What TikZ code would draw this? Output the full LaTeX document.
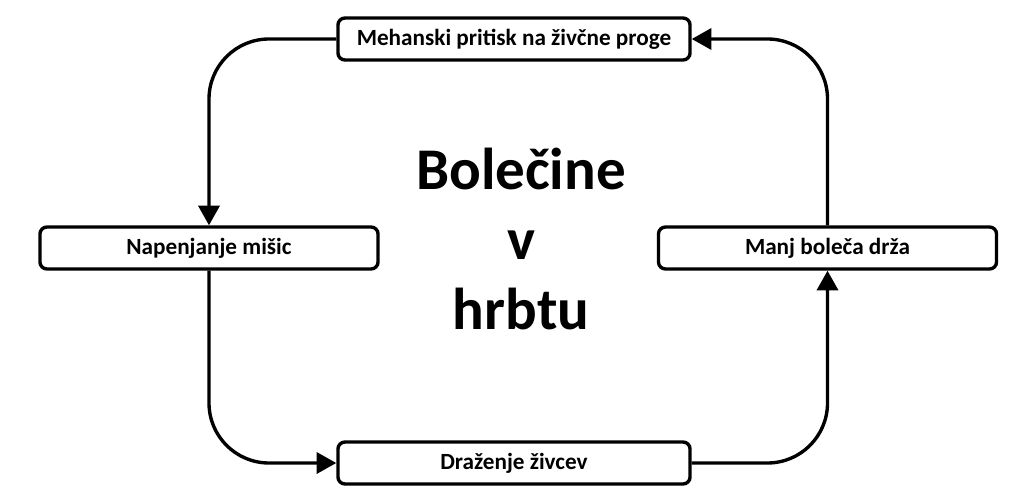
\documentclass[tikz,border=0pt]{standalone}
\usepackage{fontspec}
\setmainfont{Carlito}
\usetikzlibrary{arrows.meta}
\begin{document}
\begin{tikzpicture}[x=0.025cm,y=-0.025cm,
	okvir/.style={draw,line width=2.4pt,rounded corners=5pt,fill=white,minimum height=1.05cm,font=\fontsize{16.5}{20}\selectfont\bfseries},
	tok/.style={line width=2.4pt,rounded corners=1.5cm,-{Triangle[length=14pt,width=15pt]}}]
		\useasboundingbox (0,0) rectangle (1024,504);
		\node[okvir,minimum width=8.8cm] (pritisk) at (514,39) {Mehanski pritisk na živčne proge};
		\node[okvir,minimum width=8.45cm] (misice) at (209,248) {Napenjanje mišic};
		\node[okvir,minimum width=8.45cm] (drza) at (827.5,248) {Manj boleča drža};
		\node[okvir,minimum width=8.8cm] (zivci) at (514,463) {Draženje živcev};
		\node[align=center,font=\fontsize{42}{50}\selectfont\bfseries] (bolecine) at (521,239) {Bolečine\\v\\hrbtu};
		\draw[tok] (pritisk.west) -| (misice.north);
		\draw[tok] (misice.south) |- (zivci.west);
		\draw[tok] (zivci.east) -| (drza.south);
		\draw[tok] (drza.north) |- (pritisk.east);
	\end{tikzpicture}
\end{document}
